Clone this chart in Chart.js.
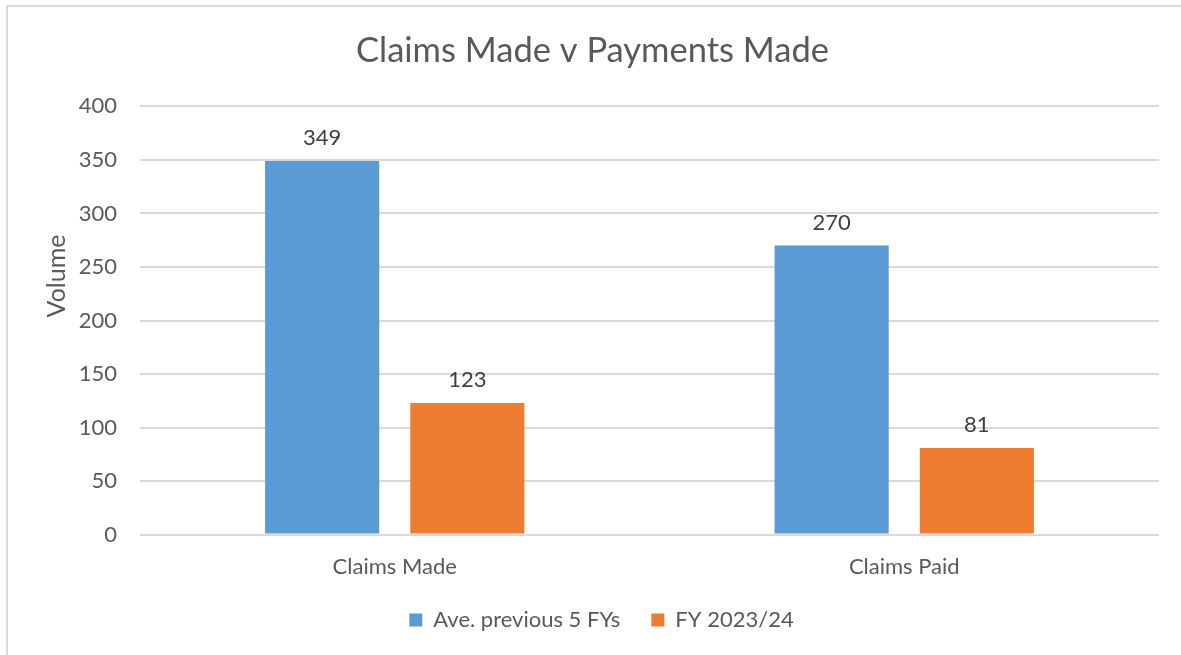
<!DOCTYPE html>
<html>
<head>
<meta charset="utf-8">
<script src="https://cdn.jsdelivr.net/npm/chart.js@4.4.1/dist/chart.umd.min.js"></script>
<style>
    html, body { margin: 0; padding: 0; background: #fff; }
    #wrap { position: absolute; left: 6px; top: 5px; width: 1181px; height: 660px; border: 2px solid #d9d9d9; box-sizing: border-box; }
    #box { position: absolute; left: 0; top: 0; width: 1181px; height: 655px; }
</style>
</head>
<body>
<div id="wrap"></div>
<div id="box"><canvas id="claimsChart"></canvas></div>
<script>
// Chart values
var categories = ['Claims Made', 'Claims Paid'];
var seriesNames = ['Ave. previous 5 FYs', 'FY 2023/24'];
var avgPrevious = [349, 270];
var fy2024 = [123, 81];
var yTicks = [0, 50, 100, 150, 200, 250, 300, 350, 400];
var yTitle = 'Volume';

var FONT = "Lato, 'Open Sans', sans-serif";

// Draw the value above each bar, plus the y axis title (sits a bit above centre)
var valueLabels = {
    id: 'valueLabels',
    afterDatasetsDraw: function(chart) {
        var ctx = chart.ctx;
        ctx.save();
        ctx.font = '22px ' + FONT;
        ctx.fillStyle = '#404040';
        ctx.textAlign = 'center';
        ctx.textBaseline = 'bottom';
        chart.data.datasets.forEach(function(ds, i) {
            chart.getDatasetMeta(i).data.forEach(function(bar, j) {
                ctx.fillText(ds.data[j], bar.x, bar.y - 12);
            });
        });
        ctx.restore();

        var area = chart.chartArea;
        ctx.save();
        ctx.translate(57, area.top + area.height * 0.396);
        ctx.rotate(-Math.PI / 2);
        ctx.font = '25px ' + FONT;
        ctx.fillStyle = '#595959';
        ctx.textAlign = 'center';
        ctx.textBaseline = 'middle';
        ctx.fillText(yTitle, 0, 0);
        ctx.restore();
    },
    afterLayout: function(chart) {
        // nudge the legend to the right like the original
        chart.legend.left += 9;
        chart.legend.right += 9;
    }
};

new Chart(document.getElementById('claimsChart').getContext('2d'), {
    type: 'bar',
    data: {
        labels: categories,
        datasets: [
            {
                label: seriesNames[0],
                data: avgPrevious,
                backgroundColor: '#5b9bd5',
                categoryPercentage: 0.57,
                barPercentage: 0.786
            },
            {
                label: seriesNames[1],
                data: fy2024,
                backgroundColor: '#ed7d31',
                categoryPercentage: 0.57,
                barPercentage: 0.786
            }
        ]
    },
    options: {
        responsive: true,
        maintainAspectRatio: false,
        animation: false,
        layout: { padding: { left: 26, right: 22, top: 30, bottom: 14 } },
        plugins: {
            title: {
                display: true,
                text: 'Claims Made v Payments Made',
                color: '#595959',
                font: { size: 34.5, family: FONT, weight: 'normal' },
                padding: { top: 0, bottom: 35 }
            },
            legend: {
                position: 'bottom',
                labels: {
                    color: '#595959',
                    font: { size: 22, family: FONT },
                    boxWidth: 13,
                    boxHeight: 13,
                    padding: 31
                }
            },
            tooltip: { enabled: false }
        },
        scales: {
            y: {
                min: 0,
                max: 400,
                afterBuildTicks: function(axis) {
                    axis.ticks = yTicks.map(function(v) { return { value: v }; });
                },
                afterFit: function(axis) { axis.width = 114; },
                ticks: {
                    color: '#595959',
                    font: { size: 22, family: FONT },
                    padding: 23
                },
                grid: { color: '#d9d9d9', lineWidth: 2, drawTicks: false },
                border: { display: false }
            },
            x: {
                afterFit: function(axis) { axis.height -= 13; },
                ticks: {
                    color: '#595959',
                    font: { size: 22, family: FONT },
                    padding: 11
                },
                grid: { display: false },
                border: { display: false }
            }
        }
    },
    plugins: [valueLabels]
});
</script>
</body>
</html>
